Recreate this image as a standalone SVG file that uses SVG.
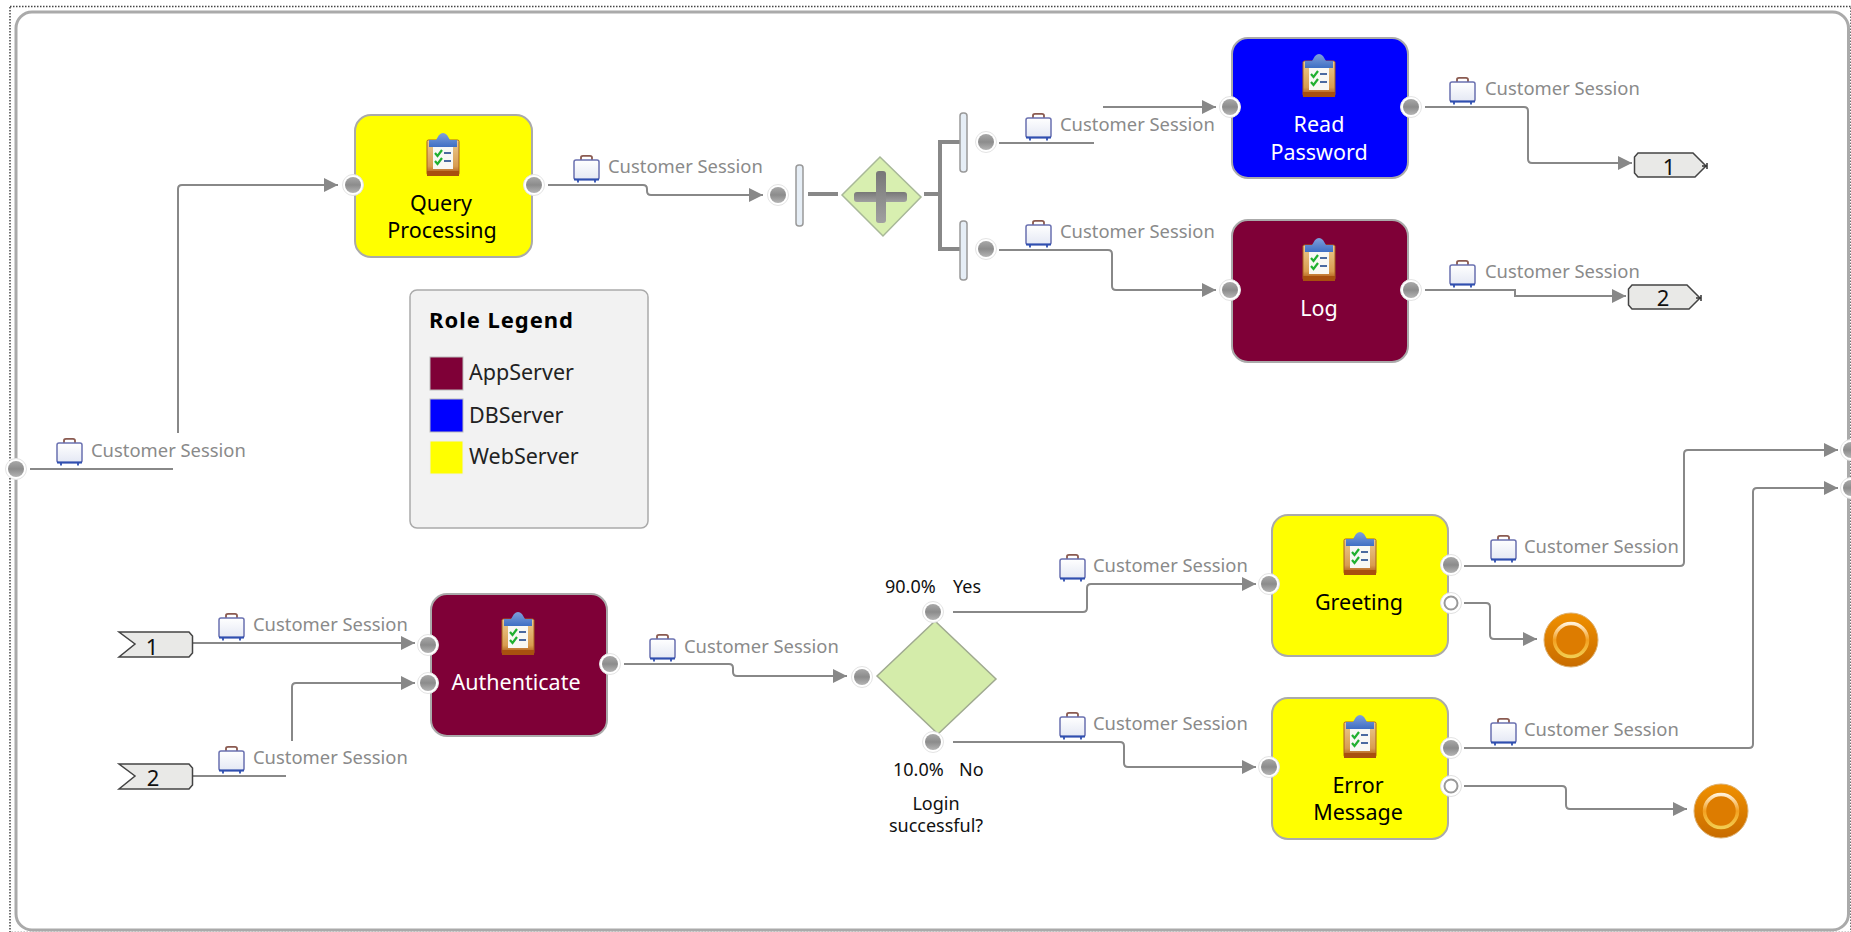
<svg xmlns="http://www.w3.org/2000/svg" width="1851" height="932" viewBox="0 0 1851 932">
<style>
text{font-family:"Noto Sans","Liberation Sans",sans-serif}
.task{stroke:#aaa;stroke-width:2}
.t{font-size:21.500px;text-anchor:middle;fill:#000}
.w{font-size:21.500px;text-anchor:middle;fill:#fff}
.cs{font-size:18.400px;fill:#8a8a8a}
.d{font-size:18px;fill:#111}
.dc{font-size:18px;fill:#111;text-anchor:middle}
.lg{font-size:21.500px;fill:#222}
.num{font-size:22px;text-anchor:middle;fill:#111}
.c{fill:none;stroke:#888;stroke-width:2}
.ca{fill:none;stroke:#888;stroke-width:2;marker-end:url(#arr)}
.split{fill:none;stroke:#888;stroke-width:4}
.bar{fill:#e6eef6;stroke:#999;stroke-width:1.5}
.off{fill:#e9e9e7;stroke:#444;stroke-width:1.5}
.tick{fill:none;stroke:#333;stroke-width:1.5}
</style>
<defs>
<marker id="arr" markerUnits="userSpaceOnUse" markerWidth="15" markerHeight="16" refX="14" refY="7.5" orient="auto"><path d="M0 0.5L14 7.5L0 14.5Z" fill="#888"/></marker>
<linearGradient id="pg" x1="0" y1="0" x2="0" y2="1"><stop offset="0" stop-color="#a8a8a8"/><stop offset="0.5" stop-color="#8c8c8c"/><stop offset="1" stop-color="#b4b4b4"/></linearGradient>
<linearGradient id="board" x1="0" y1="0" x2="0" y2="1"><stop offset="0" stop-color="#eccb90"/><stop offset="0.75" stop-color="#d89c50"/><stop offset="1" stop-color="#a8500f"/></linearGradient>
<linearGradient id="clip" x1="0" y1="0" x2="0" y2="1"><stop offset="0" stop-color="#7fa0dc"/><stop offset="1" stop-color="#3f6fc4"/></linearGradient>
<linearGradient id="endf" x1="0" y1="0" x2="0" y2="1"><stop offset="0" stop-color="#f09000"/><stop offset="1" stop-color="#c86c00"/></linearGradient>
<linearGradient id="ring" x1="0" y1="0" x2="0" y2="1"><stop offset="0" stop-color="#fff0d8"/><stop offset="0.5" stop-color="#f3a020"/><stop offset="1" stop-color="#f2cc50"/></linearGradient>
<linearGradient id="caseg" x1="0" y1="0" x2="0" y2="1"><stop offset="0" stop-color="#fff"/><stop offset="1" stop-color="#e4e8f4"/></linearGradient>
<linearGradient id="plus" x1="0" y1="0" x2="0" y2="1"><stop offset="0" stop-color="#777"/><stop offset="1" stop-color="#a0a0a0"/></linearGradient>
<g id="port"><circle r="10.5" fill="#fff" stroke="#e4e4e4" stroke-width="1"/><circle r="8" fill="url(#pg)"/></g>
<g id="hport"><circle r="10.5" fill="#fff" stroke="#e0e0e0" stroke-width="1"/><circle r="6.5" fill="#fff" stroke="#999" stroke-width="2"/></g>
<g id="case"><path d="M8 5V2.500Q8 0.800 10 0.800H17Q19 0.800 19 2.500V5" fill="none" stroke="#8a5a50" stroke-width="1.800"/><rect x="1" y="5" width="25" height="19.500" rx="2" fill="url(#caseg)" stroke="#6a70b0" stroke-width="1.500"/><path d="M1 24.500H26" stroke="#2f4fb0" stroke-width="2"/><path d="M5 24.500V27.500M22 24.500V27.500" stroke="#2f4fb0" stroke-width="1.800"/></g>
<g id="clipb"><rect x="1" y="8" width="32" height="35" rx="1.500" fill="url(#board)" stroke="#a8601c" stroke-width="1"/><rect x="1" y="39" width="32" height="5" fill="#a8500f"/><rect x="7" y="13" width="20" height="24" fill="#f8f8f4"/><path d="M3 15V8H10L13 3Q17 -1 21 3L24 8H31V15Z" fill="url(#clip)"/><path d="M9 21L11.5 24L16 18M9 29L11.5 32L16 26" fill="none" stroke="#20b030" stroke-width="2.200"/><path d="M18 21H25M18 29H25" stroke="#4a6aa0" stroke-width="2"/></g>
<g id="endev"><circle r="27" fill="url(#endf)" stroke="#ddb070" stroke-width="1"/><circle r="16.500" fill="#dd7c00" stroke="url(#ring)" stroke-width="3.500"/></g>
</defs>

<g id="frame">
<rect x="10" y="6.500" width="1841" height="926" fill="none" stroke="#444" stroke-width="1.500" stroke-dasharray="1.500 1.500"/>
<rect x="16" y="12" width="1832.500" height="918" rx="16" fill="#fff" stroke="#aaa" stroke-width="3"/>
</g>

<g id="connectors">
<path class="c" d="M30 469H173"/>
<path class="ca" d="M178 433V189Q178 185 182 185H338"/>
<path class="ca" d="M548 185H643Q647 185 647 189V191Q647 195 651 195H763"/>
<path class="split" d="M808 194H838"/>
<path class="split" d="M924 194H940M960 142H940V249H960"/>
<path class="c" d="M999 143H1094"/>
<path class="ca" d="M1103 107H1216"/>
<path class="ca" d="M999 250H1108Q1112 250 1112 254V286Q1112 290 1116 290H1216"/>
<path class="ca" d="M1425 107H1524Q1528 107 1528 111V159Q1528 163 1532 163H1632"/>
<path class="ca" d="M1425 290H1515V296H1626"/>
<path class="ca" d="M193 643H415"/>
<path class="c" d="M193 776H286"/>
<path class="ca" d="M292 741V687Q292 683 296 683H415"/>
<path class="ca" d="M624 664H729Q733 664 733 668V672Q733 676 737 676H847"/>
<path class="ca" d="M953 612H1083Q1087 612 1087 608V588Q1087 584 1091 584H1256"/>
<path class="ca" d="M953 742H1120Q1124 742 1124 746V763Q1124 767 1128 767H1256"/>
<path class="ca" d="M1464 566H1680Q1684 566 1684 562V454Q1684 450 1688 450H1838"/>
<path class="ca" d="M1464 748H1749Q1753 748 1753 744V492Q1753 488 1757 488H1838"/>
<path class="ca" d="M1464 603H1486Q1490 603 1490 607V635Q1490 639 1494 639H1537"/>
<path class="ca" d="M1464 786H1562Q1566 786 1566 790V805Q1566 809 1570 809H1687"/>
</g>

<g id="connector-labels">
<use href="#case" x="56" y="438"/><text class="cs" x="91" y="457">Customer Session</text>
<use href="#case" x="573" y="155"/><text class="cs" x="608" y="173">Customer Session</text>
<use href="#case" x="1025" y="113"/><text class="cs" x="1060" y="131">Customer Session</text>
<use href="#case" x="1025" y="220"/><text class="cs" x="1060" y="238">Customer Session</text>
<use href="#case" x="1449" y="77"/><text class="cs" x="1485" y="95">Customer Session</text>
<use href="#case" x="1449" y="260"/><text class="cs" x="1485" y="278">Customer Session</text>
<use href="#case" x="218" y="613"/><text class="cs" x="253" y="631">Customer Session</text>
<use href="#case" x="218" y="746"/><text class="cs" x="253" y="764">Customer Session</text>
<use href="#case" x="649" y="634"/><text class="cs" x="684" y="653">Customer Session</text>
<use href="#case" x="1059" y="554"/><text class="cs" x="1093" y="572">Customer Session</text>
<use href="#case" x="1059" y="712"/><text class="cs" x="1093" y="730">Customer Session</text>
<use href="#case" x="1490" y="535"/><text class="cs" x="1524" y="553">Customer Session</text>
<use href="#case" x="1490" y="718"/><text class="cs" x="1524" y="736">Customer Session</text>
</g>

<g id="start-port"><use href="#port" x="16" y="469"/></g>
<g id="end-port-1"><use href="#port" x="1851" y="450"/></g>
<g id="end-port-2"><use href="#port" x="1851" y="488"/></g>

<g id="query-processing">
<rect class="task" x="355" y="115" width="177" height="142" rx="16" fill="#ff0"/>
<use href="#clipb" x="426" y="132"/>
<text class="t" x="441" y="211">Query</text><text class="t" x="442" y="238">Processing</text>
<use href="#port" x="353" y="185"/><use href="#port" x="534" y="185"/>
</g>

<g id="and-gateway">
<use href="#port" x="778" y="195"/>
<rect class="bar" x="796" y="165" width="7" height="61" rx="3"/>
<path d="M842 195L880 157L921 197L883 236Z" fill="#d8efb0" stroke="#a8b898" stroke-width="1.500"/>
<rect x="854" y="192" width="53" height="10" rx="3" fill="url(#plus)"/>
<rect x="876" y="171" width="10" height="52" rx="3" fill="url(#plus)"/>
<rect class="bar" x="960" y="113" width="7" height="59" rx="3"/>
<rect class="bar" x="960" y="221" width="7" height="59" rx="3"/>
<use href="#port" x="986" y="142"/><use href="#port" x="986" y="249"/>
</g>

<g id="read-password">
<rect class="task" x="1232" y="38" width="176" height="140" rx="16" fill="#00f"/>
<use href="#clipb" x="1302" y="53"/>
<text class="w" x="1319" y="132">Read</text><text class="w" x="1319" y="160">Password</text>
<use href="#port" x="1230" y="107"/><use href="#port" x="1411" y="107"/>
</g>

<g id="log">
<rect class="task" x="1232" y="220" width="176" height="142" rx="16" fill="#7f0037"/>
<use href="#clipb" x="1302" y="237"/>
<text class="w" x="1319" y="316">Log</text>
<use href="#port" x="1230" y="290"/><use href="#port" x="1411" y="290"/>
</g>

<g id="offpage-out-1">
<path class="off" d="M1638 153H1693L1706 166L1695 177H1638L1634.500 173V157Z"/>
<path class="tick" d="M1702 166H1707M1707 163V169"/>
<text class="num" x="1669" y="175">1</text>
</g>
<g id="offpage-out-2">
<path class="off" d="M1632 285H1687L1700 298L1689 309H1632L1628.500 305V289Z"/>
<path class="tick" d="M1696 298H1701M1701 295V301"/>
<text class="num" x="1663" y="306">2</text>
</g>

<g id="role-legend">
<rect x="410" y="290" width="238" height="238" rx="7" fill="#f2f2f2" stroke="#aaa" stroke-width="1.500"/>
<text x="429" y="328" font-size="22" font-weight="700" fill="#000" textLength="144" lengthAdjust="spacing">Role Legend</text>
<rect x="430" y="357" width="33" height="33" fill="#7f0037" stroke="#bbb"/><text class="lg" x="469" y="380">AppServer</text>
<rect x="430" y="399" width="33" height="33" fill="#00f" stroke="#bbb"/><text class="lg" x="469" y="423">DBServer</text>
<rect x="430" y="441" width="33" height="33" fill="#ff0" stroke="#eee"/><text class="lg" x="469" y="464">WebServer</text>
</g>

<g id="offpage-in-1">
<path class="off" d="M119 632H189L192.500 636V653L189 657H119L135 644Z"/>
<text class="num" x="152" y="655">1</text>
</g>
<g id="offpage-in-2">
<path class="off" d="M119 764H189L192.500 768V785L189 789H119L135 776Z"/>
<text class="num" x="153" y="786">2</text>
</g>

<g id="authenticate">
<rect class="task" x="431" y="594" width="176" height="142" rx="16" fill="#7f0037"/>
<use href="#clipb" x="501" y="611"/>
<text class="w" x="516" y="690">Authenticate</text>
<use href="#port" x="428" y="645"/><use href="#port" x="428" y="683"/><use href="#port" x="610" y="664"/>
</g>

<g id="login-decision">
<use href="#port" x="862" y="677"/>
<path d="M877 676L935 621L996 679L938 734Z" fill="#d4ecaa" stroke="#a0aa90" stroke-width="1.500"/>
<use href="#port" x="933" y="612"/><use href="#port" x="933" y="742"/>
<text class="d" x="885" y="593">90.0%<tspan x="953">Yes</tspan></text>
<text class="d" x="893" y="776">10.0%<tspan x="959">No</tspan></text>
<text class="dc" x="936" y="810">Login</text><text class="dc" x="936" y="832">successful?</text>
</g>

<g id="greeting">
<rect class="task" x="1272" y="515" width="176" height="141" rx="16" fill="#ff0"/>
<use href="#clipb" x="1343" y="531"/>
<text class="t" x="1359" y="610">Greeting</text>
<use href="#port" x="1269" y="584"/><use href="#port" x="1451" y="565"/><use href="#hport" x="1451" y="603"/>
</g>

<g id="error-message">
<rect class="task" x="1272" y="698" width="176" height="141" rx="16" fill="#ff0"/>
<use href="#clipb" x="1343" y="714"/>
<text class="t" x="1358" y="793">Error</text><text class="t" x="1358" y="820">Message</text>
<use href="#port" x="1269" y="767"/><use href="#port" x="1451" y="748"/><use href="#hport" x="1451" y="786"/>
</g>

<g id="end-1"><use href="#endev" x="1571" y="640"/></g>
<g id="end-2"><use href="#endev" x="1721" y="811"/></g>
</svg>
